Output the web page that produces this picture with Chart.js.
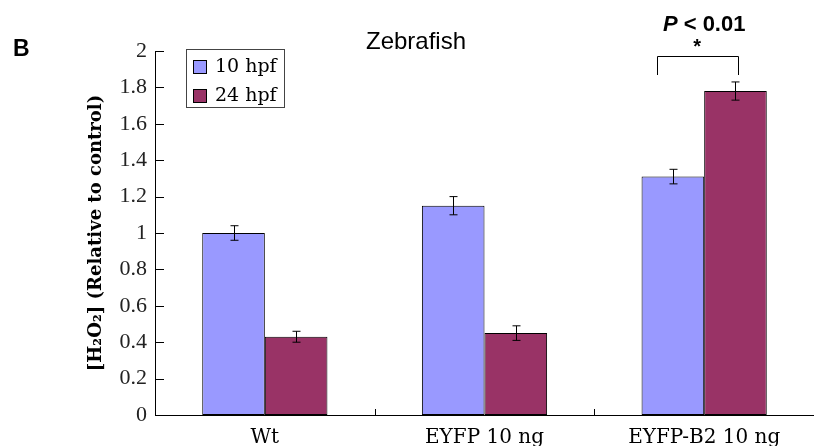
<!DOCTYPE html>
<html>
<head>
<meta charset="utf-8">
<script src="https://cdn.jsdelivr.net/npm/chart.js@4/dist/chart.umd.min.js"></script>
<style>
    html, body { margin: 0; padding: 0; background: #fff; }
    #wrap { width: 814px; height: 446px; position: relative; }
</style>
</head>
<body>
<div id="wrap"><canvas id="chart"></canvas></div>
<script>
const categories = ['Wt', 'EYFP 10 ng', 'EYFP-B2 10 ng'];
const seriesLabels = ['10 hpf', '24 hpf'];
const hpf10Values = [1.0, 1.15, 1.31];
const hpf10Errors = [0.04, 0.05, 0.04];
const hpf24Values = [0.43, 0.45, 1.78];
const hpf24Errors = [0.03, 0.04, 0.05];
const yTickLabels = ['0', '0.2', '0.4', '0.6', '0.8', '1', '1.2', '1.4', '1.6', '1.8', '2'];

const blueFill = '#9999FF';
const redFill = '#993366';
const serifFont = '"DejaVu Serif", serif';
const sansFont = '"Liberation Sans", Arial, sans-serif';

// error bars, inward ticks, legend and text annotations
const extrasPlugin = {
    id: 'extras',
    afterDatasetsDraw(chart) {
        const ctx = chart.ctx;
        const yScale = chart.scales.y;
        ctx.save();
        ctx.strokeStyle = '#000';
        ctx.lineWidth = 1;
        chart.data.datasets.forEach((dataset, di) => {
            const meta = chart.getDatasetMeta(di);
            meta.data.forEach((bar, i) => {
                const value = dataset.data[i];
                const err = dataset.errors[i];
                const x = Math.round(bar.x) + 0.5;
                const yTop = yScale.getPixelForValue(value + err);
                const yBottom = yScale.getPixelForValue(value - err);
                ctx.beginPath();
                ctx.moveTo(x, yTop);
                ctx.lineTo(x, yBottom);
                ctx.moveTo(x - 4, yTop);
                ctx.lineTo(x + 4, yTop);
                ctx.moveTo(x - 4, yBottom);
                ctx.lineTo(x + 4, yBottom);
                ctx.stroke();
            });
        });
        ctx.restore();
    },
    afterDraw(chart) {
        const ctx = chart.ctx;
        const area = chart.chartArea;
        const yScale = chart.scales.y;
        const xScale = chart.scales.x;
        ctx.save();
        ctx.strokeStyle = '#000';
        ctx.lineWidth = 1;

        // y ticks pointing into the plot
        yScale.ticks.forEach((tick) => {
            const y = Math.round(yScale.getPixelForValue(tick.value)) + 0.5;
            ctx.beginPath();
            ctx.moveTo(area.left, y);
            ctx.lineTo(area.left + 9, y);
            ctx.stroke();
        });

        // x ticks at category boundaries
        const catWidth = (area.right - area.left) / categories.length;
        for (let i = 1; i < categories.length; i++) {
            const x = Math.round(area.left + catWidth * i) + 0.5;
            ctx.beginPath();
            ctx.moveTo(x, area.bottom);
            ctx.lineTo(x, area.bottom - 6);
            ctx.stroke();
        }

        // legend
        ctx.strokeStyle = '#444';
        ctx.strokeRect(186.5, 49.5, 98, 58);
        const fills = [blueFill, redFill];
        ctx.font = '19px ' + serifFont;
        ctx.textBaseline = 'middle';
        ctx.fillStyle = '#000';
        seriesLabels.forEach((label, i) => {
            const y = 60 + i * 29;
            ctx.fillStyle = fills[i];
            ctx.fillRect(193.5, y + 0.5, 13, 13);
            ctx.strokeStyle = '#000';
            ctx.strokeRect(193.5, y + 0.5, 13, 13);
            ctx.fillStyle = '#000';
            ctx.fillText(label, 215, y + 7);
        });

        // panel letter and title
        ctx.textBaseline = 'alphabetic';
        ctx.font = 'bold 23px ' + sansFont;
        ctx.textAlign = 'left';
        ctx.fillText('B', 13, 56);
        ctx.font = '24px ' + sansFont;
        ctx.textAlign = 'center';
        ctx.fillText('Zebrafish', 416, 49);

        // significance bracket
        const center = xScale.getPixelForValue(2);
        const left = Math.round(center - 47) + 0.5;
        const right = Math.round(center + 34) + 0.5;
        ctx.strokeStyle = '#000';
        ctx.beginPath();
        ctx.moveTo(left, 75);
        ctx.lineTo(left, 56.5);
        ctx.lineTo(right, 56.5);
        ctx.lineTo(right, 75);
        ctx.stroke();
        ctx.font = 'bold 20px ' + sansFont;
        ctx.fillText('*', center - 7, 53);
        const pText = ' < 0.01';
        ctx.font = 'bold 22px ' + sansFont;
        const restWidth = ctx.measureText(pText).width;
        ctx.font = 'italic bold 22px ' + sansFont;
        const pWidth = ctx.measureText('P').width;
        const startX = center - (pWidth + restWidth) / 2;
        ctx.textAlign = 'left';
        ctx.fillText('P', startX, 31);
        ctx.font = 'bold 22px ' + sansFont;
        ctx.fillText(pText, startX + pWidth, 31);
        ctx.restore();
    }
};

new Chart(document.getElementById('chart'), {
    type: 'bar',
    data: {
        labels: categories,
        datasets: [
            {
                label: seriesLabels[0],
                data: hpf10Values,
                errors: hpf10Errors,
                backgroundColor: blueFill,
                borderColor: '#000',
                borderWidth: 1,
                borderSkipped: false
            },
            {
                label: seriesLabels[1],
                data: hpf24Values,
                errors: hpf24Errors,
                backgroundColor: redFill,
                borderColor: '#000',
                borderWidth: 1,
                borderSkipped: false
            }
        ]
    },
    options: {
        responsive: true,
        maintainAspectRatio: false,
        animation: false,
        categoryPercentage: 0.57,
        barPercentage: 1.0,
        layout: {
            padding: { top: 51, left: 0, right: 0, bottom: 0 }
        },
        plugins: {
            legend: { display: false },
            tooltip: { enabled: false }
        },
        scales: {
            x: {
                grid: { display: false },
                border: { display: true, color: '#000', width: 1 },
                ticks: {
                    color: '#000',
                    padding: 3,
                    font: { family: serifFont, size: 20 }
                },
                afterFit: (scale) => { scale.height = 31; }
            },
            y: {
                min: 0,
                max: 2,
                grid: { display: false },
                border: { display: true, color: '#000', width: 1 },
                ticks: {
                    stepSize: 0.2,
                    color: '#222',
                    padding: 0,
                    font: { family: '"Liberation Serif", serif', size: 22 },
                    callback: (value, index) => yTickLabels[index]
                },
                title: {
                    display: true,
                    text: '[H₂O₂] (Relative to control)',
                    color: '#000',
                    font: { family: serifFont, size: 18, weight: 'bold' },
                    padding: { top: 86, bottom: 0 }
                },
                afterFit: (scale) => { scale.width = 155; }
            }
        }
    },
    plugins: [extrasPlugin]
});
</script>
</body>
</html>
